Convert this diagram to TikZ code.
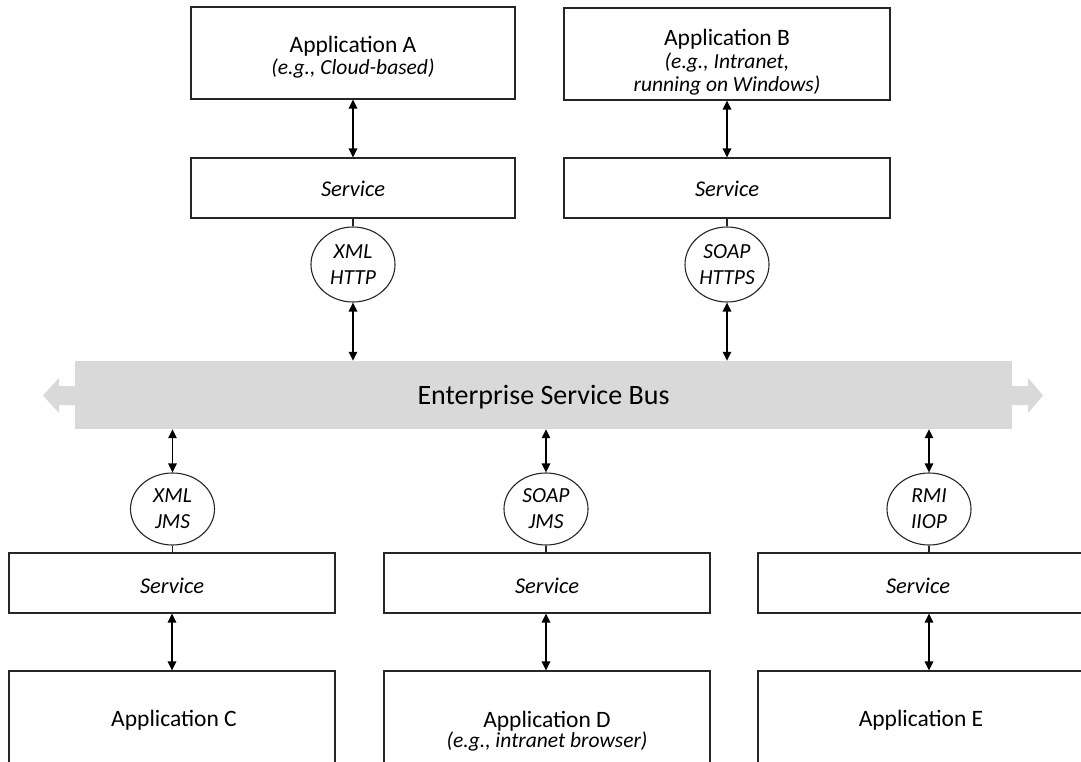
\documentclass[tikz,border=0pt]{standalone}
\usepackage{fontspec}
\setmainfont{Carlito}
\usetikzlibrary{arrows.meta,shapes.geometric}
\definecolor{busgray}{HTML}{D9D9D9}
\newcommand\apptitle{\fontsize{23.5}{27}\selectfont}
\newcommand\appnote{\fontsize{21.5}{23}\selectfont\itshape}
\newcommand\svcfont{\fontsize{22.5}{26}\selectfont\itshape}
\newcommand\protofont{\fontsize{21.5}{25}\selectfont\itshape}
\newcommand\busfont{\fontsize{28}{30}\selectfont}
\begin{document}
\begin{tikzpicture}[x=1pt,y=-1pt,
  appbox/.style={draw=black!85, line width=1.1pt, rectangle, inner sep=0pt},
  apptext/.style={inner sep=0pt, align=center, font=\apptitle},
  svcbox/.style={draw=black!85, line width=1.1pt, rectangle, inner sep=0pt,
    minimum height=60pt},
  svctext/.style={inner sep=0pt, font=\svcfont},
  proto/.style={draw=black!85, line width=1.1pt, ellipse, inner sep=0pt,
    minimum width=84pt, minimum height=75pt, align=center, font=\protofont},
  biarrow/.style={line width=1.4pt, {Triangle[length=9pt,width=8.5pt]}-{Triangle[length=9pt,width=8.5pt]}},
  link/.style={line width=1.1pt, draw=black!85},
]
\useasboundingbox (0,0) rectangle (1081,762);
\clip (0,0) rectangle (1081,762);

% top applications and their services
\node[appbox, minimum width=324pt, minimum height=92pt] (appA) at (353,53) {};
\node[apptext] (appAtext) at (353,57)
  {Application A\\[-5pt]{\appnote (e.g., Cloud-based)}};
\node[appbox, minimum width=326pt, minimum height=92pt] (appB) at (727,54) {};
\node[apptext] (appBtext) at (727,62)
  {Application B\\[-4pt]{\appnote (e.g., Intranet,}\\[-4pt]{\appnote running on Windows)}};
\node[svcbox, minimum width=324pt] (svcA) at (353,188) {};
\node[svctext] (svcAtext) at (353,189) {Service};
\node[svcbox, minimum width=326pt] (svcB) at (727,188) {};
\node[svctext] (svcBtext) at (727,189) {Service};
\node[proto] (pA) at (353,264.5) {XML\\[1pt]HTTP};
\node[proto] (pB) at (727,264.5) {SOAP\\[1pt]HTTPS};

% the bus with its arrow ends
\node[fill=busgray, minimum width=937pt, minimum height=68pt, inner sep=0pt] (bus) at (543.5,395) {};
\node[font=\busfont, inner sep=0pt] (bustext) at (543.5,397) {Enterprise Service Bus};
\fill[busgray] (75,386) -- (59,386) -- (59,378) -- (43,395.5) -- (59,413) -- (59,405) -- (75,405) -- cycle;
\fill[busgray] (1012,386) -- (1028,386) -- (1028,378) -- (1043,395.5) -- (1028,413) -- (1028,405) -- (1012,405) -- cycle;

% bottom protocols, services and applications
\node[proto, minimum height=72pt] (pC) at (172.5,509) {XML\\[1pt]JMS};
\node[proto, minimum height=72pt] (pD) at (546,509) {SOAP\\[1pt]JMS};
\node[proto, minimum height=72pt] (pE) at (929,509) {RMI\\[1pt]IIOP};
\node[svcbox, minimum width=326pt] (svcC) at (172,583) {};
\node[svctext] (svcCtext) at (172,586) {Service};
\node[svcbox, minimum width=326pt] (svcD) at (547,583) {};
\node[svctext] (svcDtext) at (547,586) {Service};
\node[svcbox, minimum width=326pt] (svcE) at (921,583) {};
\node[svctext] (svcEtext) at (918,586) {Service};
\node[appbox, minimum width=326pt, minimum height=98pt] (appC) at (172,720) {};
\node[apptext] (appCtext) at (174,720) {Application C};
\node[appbox, minimum width=326pt, minimum height=118pt] (appD) at (547,730) {};
\node[apptext] (appDtext) at (547,731)
  {Application D\\[-7pt]{\appnote (e.g., intranet browser)}};
\node[appbox, minimum width=326pt, minimum height=98pt] (appE) at (921,720) {};
\node[apptext] (appEtext) at (921,720) {Application E};

% connectors
\draw[biarrow] (appA) -- (svcA);
\draw[biarrow] (appB) -- (svcB);
\draw[link] (svcA) -- (pA);
\draw[link] (svcB) -- (pB);
\draw[biarrow] (pA) -- (pA |- bus.north);
\draw[biarrow] (pB) -- (pB |- bus.north);
\draw[biarrow] (pC |- bus.south) -- (pC);
\draw[biarrow] (pD |- bus.south) -- (pD);
\draw[biarrow] (pE |- bus.south) -- (pE);
\draw[link] (pC) -- (pC |- svcC.north);
\draw[link] (pD) -- (pD |- svcD.north);
\draw[link] (pE) -- (pE |- svcE.north);
\draw[biarrow] (svcC.south) -- (svcC.south |- appC.north);
\draw[biarrow] (pD |- svcD.south) -- (pD |- appD.north);
\draw[biarrow] (pE |- svcE.south) -- (pE |- appE.north);
\end{tikzpicture}
\end{document}
